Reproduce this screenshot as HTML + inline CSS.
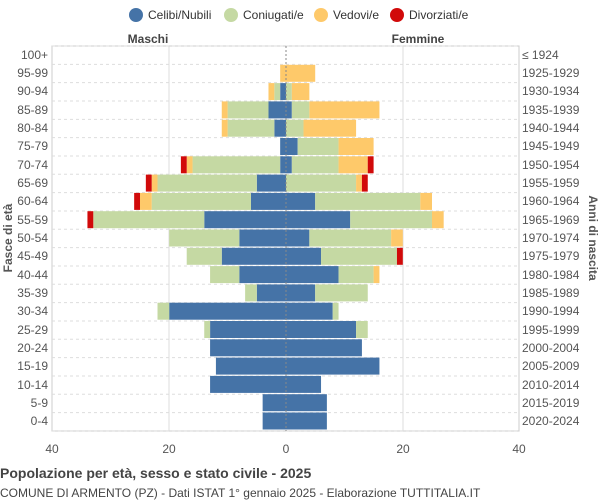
<!DOCTYPE html>
<html><head><meta charset="utf-8"><style>
body{margin:0;background:#fff}
svg{display:block;font-family:"Liberation Sans",sans-serif}
</style></head><body>
<svg id="s" width="600" height="500" xmlns="http://www.w3.org/2000/svg">
<g font-size="12" fill="#333">
<circle cx="136" cy="15" r="7" fill="#4573a7"/><text x="148" y="19">Celibi/Nubili</text>
<circle cx="231" cy="15" r="7" fill="#c5d9a3"/><text x="243" y="19">Coniugati/e</text>
<circle cx="321" cy="15" r="7" fill="#fec96a"/><text x="333" y="19">Vedovi/e</text>
<circle cx="397" cy="15" r="7" fill="#d10a0a"/><text x="409" y="19">Divorziati/e</text>
</g>
<text x="148" y="43" font-size="12" font-weight="bold" fill="#444" text-anchor="middle">Maschi</text>
<text x="418" y="43" font-size="12" font-weight="bold" fill="#444" text-anchor="middle">Femmine</text>
<g id="grid"></g>
<g id="bars"></g>
<g font-size="12" fill="#555" text-anchor="end">
<text x="48" y="59">100+</text><text x="48" y="77">95-99</text><text x="48" y="95">90-94</text><text x="48" y="114">85-89</text><text x="48" y="132">80-84</text><text x="48" y="150">75-79</text><text x="48" y="169">70-74</text><text x="48" y="187">65-69</text><text x="48" y="205">60-64</text><text x="48" y="224">55-59</text><text x="48" y="242">50-54</text><text x="48" y="260">45-49</text><text x="48" y="279">40-44</text><text x="48" y="297">35-39</text><text x="48" y="315">30-34</text><text x="48" y="334">25-29</text><text x="48" y="352">20-24</text><text x="48" y="370">15-19</text><text x="48" y="389">10-14</text><text x="48" y="407">5-9</text><text x="48" y="425">0-4</text>
</g>
<g font-size="12" fill="#555">
<text x="522" y="59">≤ 1924</text><text x="522" y="77">1925-1929</text><text x="522" y="95">1930-1934</text><text x="522" y="114">1935-1939</text><text x="522" y="132">1940-1944</text><text x="522" y="150">1945-1949</text><text x="522" y="169">1950-1954</text><text x="522" y="187">1955-1959</text><text x="522" y="205">1960-1964</text><text x="522" y="224">1965-1969</text><text x="522" y="242">1970-1974</text><text x="522" y="260">1975-1979</text><text x="522" y="279">1980-1984</text><text x="522" y="297">1985-1989</text><text x="522" y="315">1990-1994</text><text x="522" y="334">1995-1999</text><text x="522" y="352">2000-2004</text><text x="522" y="370">2005-2009</text><text x="522" y="389">2010-2014</text><text x="522" y="407">2015-2019</text><text x="522" y="425">2020-2024</text>
</g>
<g font-size="12" fill="#555" text-anchor="middle">
<text x="52" y="453">40</text><text x="169" y="453">20</text><text x="286" y="453">0</text><text x="403" y="453">20</text><text x="519" y="453">40</text>
</g>
<text transform="translate(12,238) rotate(-90)" font-size="12" font-weight="bold" fill="#555" text-anchor="middle">Fasce di età</text>
<text transform="translate(589,238) rotate(90)" font-size="12" font-weight="bold" fill="#555" text-anchor="middle">Anni di nascita</text>
<text x="0" y="478" font-size="14" font-weight="bold" fill="#444">Popolazione per età, sesso e stato civile - 2025</text>
<text x="0" y="497" font-size="12" fill="#444">COMUNE DI ARMENTO (PZ) - Dati ISTAT 1° gennaio 2025 - Elaborazione TUTTITALIA.IT</text>
</svg>
<script>
var M=[[0,0,0,0],[0,0,1,0],[1,1,1,0],[3,7,1,0],[2,8,1,0],[1,0,0,0],[1,15,1,1],[5,17,1,1],[6,17,2,1],[14,19,0,1],[8,12,0,0],[11,6,0,0],[8,5,0,0],[5,2,0,0],[20,2,0,0],[13,1,0,0],[13,0,0,0],[12,0,0,0],[13,0,0,0],[4,0,0,0],[4,0,0,0]];
var F=[[0,0,0,0],[0,0,5,0],[0,1,3,0],[1,3,12,0],[0,3,9,0],[2,7,6,0],[1,8,5,1],[0,12,1,1],[5,18,2,0],[11,14,2,0],[4,14,2,0],[6,13,0,1],[9,6,1,0],[5,9,0,0],[8,1,0,0],[12,2,0,0],[13,0,0,0],[16,0,0,0],[6,0,0,0],[7,0,0,0],[7,0,0,0]];
var C=["#4573a7","#c5d9a3","#fec96a","#d10a0a"],k=5.84,cx=286,ns="http://www.w3.org/2000/svg";
var g=document.getElementById("grid"),b=document.getElementById("bars");
function el(p,t,a){var e=document.createElementNS(ns,t);for(var i in a)e.setAttribute(i,a[i]);p.appendChild(e);return e;}
el(g,"rect",{x:52,y:46,width:467,height:385,fill:"none",stroke:"#ccc"});
for(var i=0;i<=21;i++){var y=46+i*18.33;el(g,"line",{x1:52,x2:519,y1:y,y2:y,stroke:"#ddd","stroke-dasharray":"3,3"});}
[169,403].forEach(function(x){el(g,"line",{x1:x,x2:x,y1:46,y2:431,stroke:"#ddd"});});
for(var r=0;r<21;r++){var y=55+r*18.3-8.5,s=0;
for(var j=0;j<4;j++){var v=M[r][j];if(v){el(b,"rect",{x:cx-(s+v)*k,y:y,width:v*k,height:17,fill:C[j]});}s+=v;}
s=0;for(var j=0;j<4;j++){var v=F[r][j];if(v){el(b,"rect",{x:cx+s*k,y:y,width:v*k,height:17,fill:C[j]});}s+=v;}}
el(b,"line",{x1:cx,x2:cx,y1:46,y2:431,stroke:"#888","stroke-dasharray":"2,2"});
</script>
</body></html>
